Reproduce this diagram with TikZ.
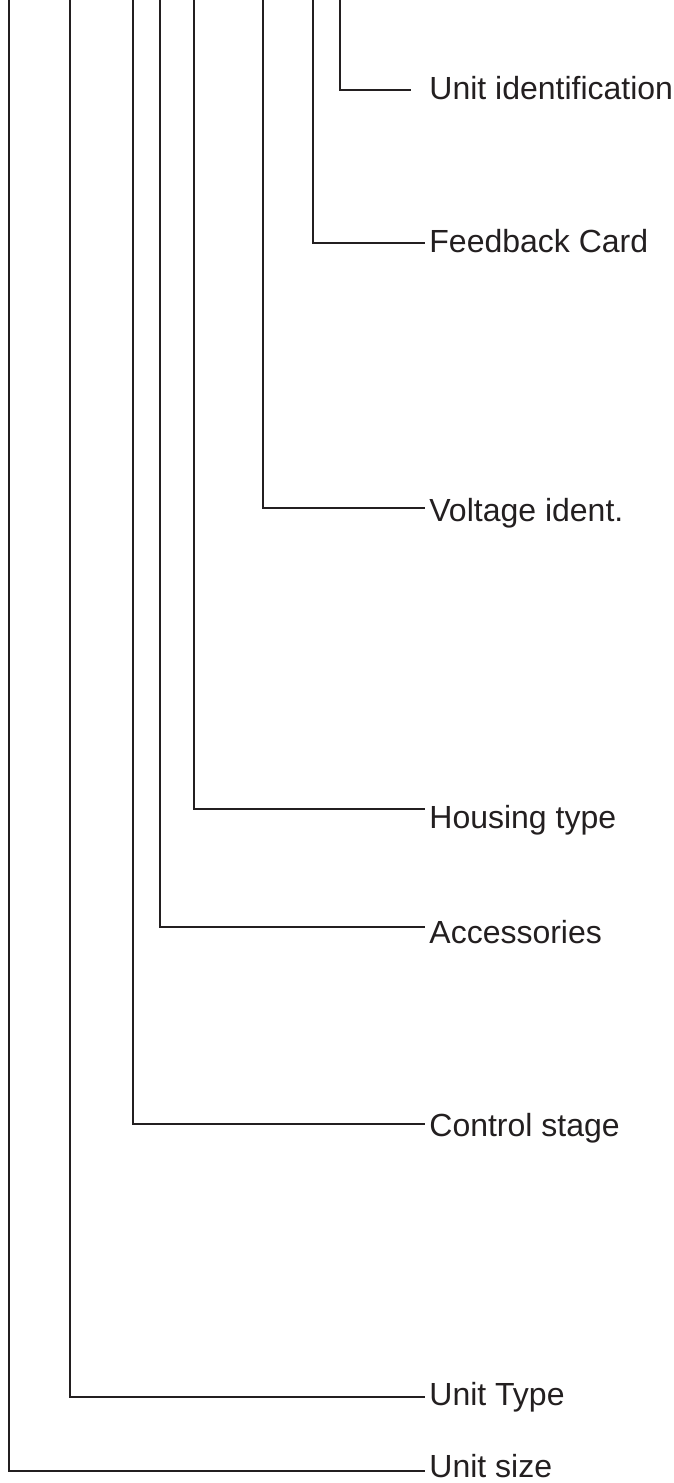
\documentclass[tikz,border=0pt]{standalone}
\usepackage{fontspec}
\setmainfont{Liberation Sans}
\usetikzlibrary{positioning}
\definecolor{ink}{RGB}{35,31,32}
\tikzset{field label/.style={
    anchor=base west,
    inner xsep=2pt, inner ysep=0pt,
    text=ink, font=\fontsize{16}{19}\selectfont
}}
\tikzset{leader/.style={
    draw=ink, line width=0.9pt
}}

\begin{document}
\begin{tikzpicture}[x=0.5pt, y=-0.5pt]
            \useasboundingbox (0,0) rectangle (674,1483);

            \coordinate (tId)      at(340,0);
            \coordinate (tCard)    at(313,0);
            \coordinate (tVolt)    at(263,0);
            \coordinate (tHousing) at(194,0);
            \coordinate (tAcc)     at(160,0);
            \coordinate (tCtrl)    at(133,0);
            \coordinate (tType)    at(70,0);
            \coordinate (tSize)    at(9,0);

            \coordinate (cId)      at(340,90);
            \coordinate (cCard)    at(313,243);
            \coordinate (cVolt)    at(263,508);
            \coordinate (cHousing) at(194,809);
            \coordinate (cAcc)     at(160,927);
            \coordinate (cCtrl)    at(133,1124);
            \coordinate (cType)    at(70,1397);
            \coordinate (cSize)    at(9,1471);

            \node (unitid)  [field label] at(425,99)   {Unit identification};
            \node (card)    [field label] at(425,252)  {Feedback Card};
            \node (volt)    [field label] at(425,521)  {Voltage ident.};
            \node (housing) [field label] at(425,828)  {Housing type};
            \node (acc)     [field label] at(425,943)  {Accessories};
            \node (ctrl)    [field label] at(425,1136) {Control stage};
            \node (utype)   [field label] at(425,1405) {Unit Type};
            \node (usize)   [field label] at(425,1477) {Unit size};

            % edges
            \path [leader]
              (tId) -- (cId) -- ([xshift=-7pt]cId -| unitid.west)
              (tCard) -- (cCard) -- (cCard -| card.west)
              (tVolt) -- (cVolt) -- (cVolt -| volt.west)
              (tHousing) -- (cHousing) -- (cHousing -| housing.west)
              (tAcc) -- (cAcc) -- (cAcc -| acc.west)
              (tCtrl) -- (cCtrl) -- (cCtrl -| ctrl.west)
              (tType) -- (cType) -- (cType -| utype.west)
              (tSize) -- (cSize) -- (cSize -| usize.west)
              ;
        \end{tikzpicture}
\end{document}
